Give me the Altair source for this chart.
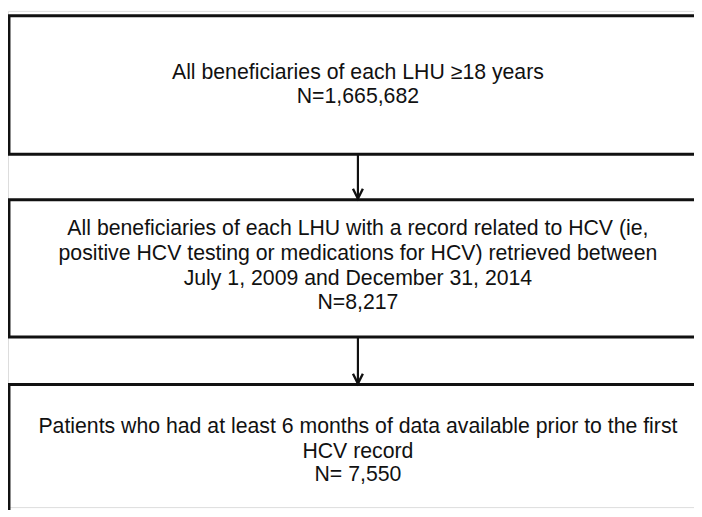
import altair as alt
import pandas as pd

# ---- content ----
box_ids = ["b1", "b2", "b3"]
box_top = [13, 199, 386]
box_bottom = [153, 338, 560]
box_left = [9, 9, 9]
box_right = [715, 715, 715]

text_lines = [
    "All beneficiaries of each LHU \u226518 years",
    "N=1,665,682",
    "All beneficiaries of each LHU with a record related to HCV (ie,",
    "positive HCV testing or medications for HCV) retrieved between",
    "July 1, 2009 and December 31, 2014",
    "N=8,217",
    "Patients who had at least 6 months of data available prior to the first",
    "HCV record",
    "N= 7,550",
]
text_y = [71, 95, 229, 254, 279, 304, 429, 454, 478]
text_x = [362] * len(text_lines)

# arrows: shaft from previous box bottom to next box top
arrow_x = [362, 362]
arrow_from = [153, 338]
arrow_to = [199, 386]
head_len = 11
head_half = 5

W, H = 694, 502
xs = alt.Scale(domain=[8, 8 + W], nice=False, zero=False)
ys = alt.Scale(domain=[8, 8 + H], reverse=True, nice=False, zero=False)

boxes = pd.DataFrame({"id": box_ids, "x": box_left, "x2": box_right,
                      "y": box_top, "y2": box_bottom})
texts = pd.DataFrame({"t": text_lines, "x": text_x, "y": text_y})
shafts = pd.DataFrame({"x": arrow_x, "y": arrow_from, "y2": arrow_to})

head_rows = []
for i, (ax, at) in enumerate(zip(arrow_x, arrow_to)):
    head_rows += [
        {"a": i, "o": 0, "x": ax - head_half, "y": at - head_len},
        {"a": i, "o": 1, "x": ax, "y": at - 1},
        {"a": i, "o": 2, "x": ax + head_half, "y": at - head_len},
    ]
heads = pd.DataFrame(head_rows)

noax = dict(axis=None)

box_layer = alt.Chart(boxes).mark_rect(
    filled=False, stroke="#111111", strokeWidth=3
).encode(
    x=alt.X("x:Q", scale=xs, **noax), x2="x2:Q",
    y=alt.Y("y:Q", scale=ys, **noax), y2="y2:Q",
)

shaft_layer = alt.Chart(shafts).mark_rule(color="#111111", strokeWidth=2.2).encode(
    x=alt.X("x:Q", scale=xs, **noax),
    y=alt.Y("y:Q", scale=ys, **noax), y2="y2:Q",
)

head_layer = alt.Chart(heads).mark_line(color="#111111", strokeWidth=2.4).encode(
    x=alt.X("x:Q", scale=xs, **noax),
    y=alt.Y("y:Q", scale=ys, **noax),
    detail="a:N", order="o:Q",
)

text_layer = alt.Chart(texts).mark_text(
    font="Liberation Sans", fontSize=21.5, color="#111111",
    align="center", baseline="middle"
).encode(
    x=alt.X("x:Q", scale=xs, **noax),
    y=alt.Y("y:Q", scale=ys, **noax),
    text="t:N",
)

chart = alt.layer(box_layer, shaft_layer, head_layer, text_layer).properties(
    width=W, height=H, padding=0,
    autosize=alt.AutoSizeParams(type="none"),
).configure_view(stroke=None).configure(background="white")

chart.save("out.html", embed_options={"renderer": "svg", "actions": False})
